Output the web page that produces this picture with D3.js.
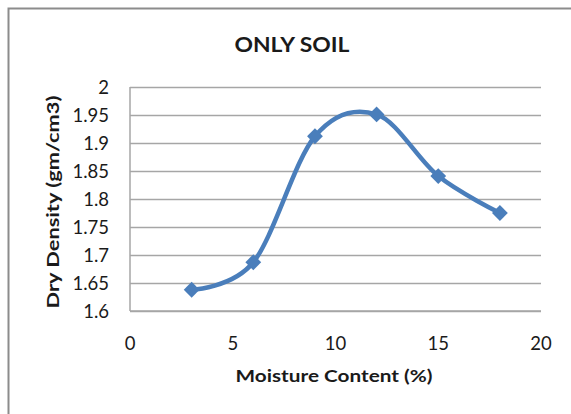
<!DOCTYPE html>
<html>
<head>
<meta charset="utf-8">
<script src="https://cdn.jsdelivr.net/npm/d3@7"></script>
<style>
  body { margin: 0; background: #fff; }
  text { font-family: Lato, "Open Sans", sans-serif; fill: #1a1a1a; }
  .grid line { stroke: #a6a6a6; stroke-width: 1.3; }
  .grid .domain { display: none; }
</style>
</head>
<body>
<div id="chart"></div>
<script>
var title = "ONLY SOIL";
var xTitle = "Moisture Content (%)";
var yTitle = "Dry Density (gm/cm3)";
var moisture = [3, 6, 9, 12, 15, 18];
var density = [1.638, 1.687, 1.912, 1.951, 1.841, 1.775];
var xTicks = [0, 5, 10, 15, 20];
var yTicks = [1.6, 1.65, 1.7, 1.75, 1.8, 1.85, 1.9, 1.95, 2];

var svgWidth = 571, svgHeight = 414;
var margin = { top: 87, right: 30, bottom: 103, left: 130 };
var width = 541 - margin.left;
var height = 311 - margin.top;

var svg = d3.select("#chart").append("svg")
  .attr("width", svgWidth)
  .attr("height", svgHeight);

// chart frame (only left + top visible)
svg.append("path")
  .attr("d", "M8.5,420 V8.5 H580")
  .attr("fill", "none")
  .attr("stroke", "#8c8c8c")
  .attr("stroke-width", 2);

var x = d3.scaleLinear().domain([0, 20]).range([0, width]);
var y = d3.scaleLinear().domain([1.6, 2]).range([height, 0]);

var g = svg.append("g")
  .attr("transform", "translate(" + margin.left + "," + margin.top + ")");

// horizontal gridlines
g.append("g")
  .attr("class", "grid")
  .call(d3.axisLeft(y).tickValues(yTicks).tickSize(-width).tickFormat(""));

// axis lines
g.append("line")
  .attr("x1", 0).attr("x2", 0).attr("y1", 0).attr("y2", height)
  .attr("stroke", "#a6a6a6").attr("stroke-width", 1.5);
g.append("line")
  .attr("x1", 0).attr("x2", width).attr("y1", height).attr("y2", height)
  .attr("stroke", "#a6a6a6").attr("stroke-width", 1.5);

// tick labels
g.selectAll(".ylab")
  .data(yTicks)
  .enter().append("text")
  .attr("x", -21)
  .attr("y", d => y(d))
  .attr("dy", "0.36em")
  .attr("text-anchor", "end")
  .style("font-size", "18.5px")
  .text(d => d);

g.selectAll(".xlab")
  .data(xTicks)
  .enter().append("text")
  .attr("x", d => x(d))
  .attr("y", height + 32)
  .attr("dy", "0.36em")
  .attr("text-anchor", "middle")
  .style("font-size", "18.5px")
  .text(d => d);

// smoothed line, like the spreadsheet's
var line = d3.line()
  .curve(d3.curveCardinal.tension(0))
  .x((d, i) => x(moisture[i]))
  .y(d => y(d));

g.append("path")
  .datum(density)
  .attr("fill", "none")
  .attr("stroke", "#4a7ebb")
  .attr("stroke-width", 4.5)
  .attr("d", line);

// diamond markers
g.selectAll(".pt")
  .data(density)
  .enter().append("path")
  .attr("d", d3.symbol().type(d3.symbolSquare).size(125))
  .attr("transform", (d, i) => "translate(" + x(moisture[i]) + "," + y(d) + ") rotate(45)")
  .attr("fill", "#4a7ebb");

// titles
svg.append("text")
  .attr("x", 292)
  .attr("y", 44)
  .attr("dy", "0.36em")
  .attr("text-anchor", "middle")
  .attr("textLength", 115)
  .attr("lengthAdjust", "spacingAndGlyphs")
  .style("font-size", "21px")
  .style("font-weight", "bold")
  .text(title);

svg.append("text")
  .attr("x", 334)
  .attr("y", 376)
  .attr("dy", "0.36em")
  .attr("text-anchor", "middle")
  .attr("textLength", 197)
  .attr("lengthAdjust", "spacingAndGlyphs")
  .style("font-size", "17.5px")
  .style("font-weight", "bold")
  .text(xTitle);

svg.append("text")
  .attr("transform", "translate(53,202) rotate(-90)")
  .attr("dy", "0.36em")
  .attr("text-anchor", "middle")
  .attr("textLength", 213)
  .attr("lengthAdjust", "spacingAndGlyphs")
  .style("font-size", "17.5px")
  .style("font-weight", "bold")
  .text(yTitle);
</script>
</body>
</html>
